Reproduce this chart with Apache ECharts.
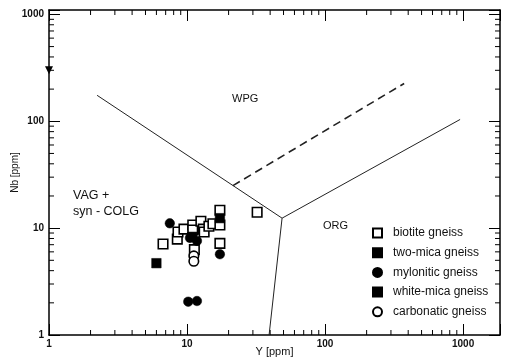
<!DOCTYPE html>
<html>
<head>
<meta charset="utf-8">
<script src="https://cdn.jsdelivr.net/npm/echarts@6/dist/echarts.min.js"></script>
<style>
  html, body { margin: 0; padding: 0; background: #fff; }
  #chart { width: 508px; height: 363px; }
</style>
</head>
<body>
<div id="chart"></div>
<script>
  // Y [ppm], Nb [ppm] pairs
  const biotite = [[6.7, 7.1], [8.5, 7.9], [8.6, 9.2], [9.5, 9.8], [11.0, 10.7], [11.0, 9.6],
    [12.6, 11.6], [13.1, 9.8], [13.3, 9.2], [14.4, 10.4], [15.4, 11.0], [17.3, 14.7],
    [17.3, 10.7], [17.3, 7.2], [11.3, 6.3], [32.2, 14.1]];
  const twoMica = [[17.3, 12.4], [10.9, 8.3]];
  const mylonitic = [[7.5, 11.1], [10.5, 8.1], [11.8, 7.6], [17.3, 5.7], [10.2, 2.05], [11.8, 2.08]];
  const whiteMica = [[6.0, 4.7]];
  const carbonatic = [[11.2, 5.5], [11.2, 4.9]];
  const stray = [[1, 300]];

  // field boundaries (Y, Nb)
  const lineVag = [[2.23, 175], [48.8, 12.4]];
  const lineOrgTop = [[48.8, 12.4], [951, 104]];
  const lineOrgBottom = [[48.8, 12.4], [39.3, 1.0]];
  const lineDashed = [[21.5, 25], [374, 226]];

  const xMin = 1, xMax = 1850, yMin = 1, yMax = 1100;
  const decadeLabels = [1, 10, 100, 1000];
  const xMinor = [2, 3, 4, 5, 6, 7, 8, 9, 20, 30, 40, 50, 60, 70, 80, 90, 200, 300, 400, 500, 600, 700, 800, 900];
  const yMinor = [2, 3, 4, 5, 6, 7, 8, 9, 20, 30, 40, 50, 60, 70, 80, 90, 200, 300, 400, 500, 600, 700, 800, 900];

  const font = 'Liberation Sans, Arial, sans-serif';
  const chart = echarts.init(document.getElementById('chart'));

  function decadeFmt(v) {
    let r = Math.round(v);
    return decadeLabels.indexOf(r) >= 0 && Math.abs(v - r) < 1e-6 ? String(r) : '';
  }

  let frameLine = { lineStyle: { color: '#000', width: 1.5 } };
  let majorTick = { inside: true, length: 11, lineStyle: { color: '#000', width: 1 } };

  let option = {
    animation: false,
    backgroundColor: '#fff',
    grid: { left: 49, right: 8, top: 10, bottom: 28, containLabel: false, outerBoundsMode: 'none' },
    xAxis: [
      {
        type: 'log', logBase: 10, min: xMin, max: xMax,
        name: 'Y [ppm]', nameLocation: 'middle', nameGap: 11, nameMoveOverlap: false,
        nameTextStyle: { fontFamily: font, fontSize: 11, color: '#111' },
        axisLine: frameLine, axisTick: majorTick,
        axisLabel: { fontFamily: font, fontSize: 10, fontWeight: 'bold', color: '#111', margin: 4, formatter: decadeFmt },
        splitLine: { show: false }
      },
      {
        type: 'log', logBase: 10, min: xMin, max: xMax, position: 'top',
        axisLine: frameLine, axisTick: majorTick, axisLabel: { show: false }, splitLine: { show: false }
      }
    ],
    yAxis: [
      {
        type: 'log', logBase: 10, min: yMin, max: yMax,
        name: 'Nb [ppm]', nameLocation: 'middle', nameGap: 29, nameMoveOverlap: false,
        nameTextStyle: { fontFamily: font, fontSize: 10, color: '#111' },
        axisLine: frameLine, axisTick: majorTick,
        axisLabel: { fontFamily: font, fontSize: 10, fontWeight: 'bold', color: '#111', margin: 5, formatter: decadeFmt },
        splitLine: { show: false }
      },
      {
        type: 'log', logBase: 10, min: yMin, max: yMax, position: 'right',
        axisLine: frameLine, axisTick: majorTick, axisLabel: { show: false }, splitLine: { show: false }
      }
    ],
    legend: {
      data: ['biotite gneiss', 'two-mica gneiss', 'mylonitic gneiss', 'white-mica gneiss', 'carbonatic gneiss'],
      orient: 'vertical', left: 367, top: 222,
      itemWidth: 9, itemHeight: 9, itemGap: 7.7,
      textStyle: { fontFamily: font, fontSize: 12, color: '#111', padding: [0, 0, 0, 6] }
    },
    graphic: [
      { type: 'text', left: 232, top: 93, style: { text: 'WPG', font: '11px ' + font, fill: '#111' } },
      { type: 'text', left: 73, top: 189, style: { text: 'VAG +', font: '12.5px ' + font, fill: '#111' } },
      { type: 'text', left: 73, top: 205, style: { text: 'syn - COLG', font: '12.5px ' + font, fill: '#111' } },
      { type: 'text', left: 323, top: 220, style: { text: 'ORG', font: '11px ' + font, fill: '#111' } }
    ],
    series: []
  };

  function boundary(data, dashed) {
    return {
      type: 'line', data: data, symbol: 'none', silent: true, clip: false,
      lineStyle: { color: '#222', width: dashed ? 1.6 : 1, type: dashed ? [8, 5] : 'solid' }
    };
  }
  option.series.push(boundary(lineVag), boundary(lineOrgTop), boundary(lineOrgBottom), boundary(lineDashed, true));

  // minor ticks on all four sides of the frame
  option.series.push({
    type: 'custom', silent: true, clip: false,
    data: xMinor.map(v => [v, yMin]),
    renderItem: function (params, api) {
      let b = api.coord([api.value(0), yMin]);
      let t = api.coord([api.value(0), yMax]);
      let st = { stroke: '#000', lineWidth: 1 };
      return { type: 'group', children: [
        { type: 'line', shape: { x1: b[0], y1: b[1], x2: b[0], y2: b[1] - 5 }, style: st },
        { type: 'line', shape: { x1: t[0], y1: t[1], x2: t[0], y2: t[1] + 5 }, style: st }
      ] };
    }
  });
  option.series.push({
    type: 'custom', silent: true, clip: false,
    data: yMinor.map(v => [xMin, v]),
    renderItem: function (params, api) {
      let l = api.coord([xMin, api.value(1)]);
      let r = api.coord([xMax, api.value(1)]);
      let st = { stroke: '#000', lineWidth: 1 };
      return { type: 'group', children: [
        { type: 'line', shape: { x1: l[0], y1: l[1], x2: l[0] + 5, y2: l[1] }, style: st },
        { type: 'line', shape: { x1: r[0], y1: r[1], x2: r[0] - 5, y2: r[1] }, style: st }
      ] };
    }
  });

  function points(name, data, symbol, filled) {
    return {
      name: name, type: 'scatter', data: data, symbol: symbol, symbolSize: 9.5, clip: false,
      itemStyle: filled
        ? { color: '#000', borderColor: '#000', borderWidth: 0.5, opacity: 1 }
        : { color: '#fff', borderColor: '#000', borderWidth: 1.6, opacity: 1 }
    };
  }
  option.series.push(
    points('biotite gneiss', biotite, 'rect', false),
    points('two-mica gneiss', twoMica, 'rect', true),
    points('mylonitic gneiss', mylonitic, 'circle', true),
    points('white-mica gneiss', whiteMica, 'rect', true),
    points('carbonatic gneiss', carbonatic, 'circle', false),
    { type: 'scatter', data: stray, symbol: 'triangle', symbolRotate: 180, symbolSize: 8, clip: false,
      itemStyle: { color: '#000', opacity: 1 } }
  );

  chart.setOption(option);
</script>
</body>
</html>
